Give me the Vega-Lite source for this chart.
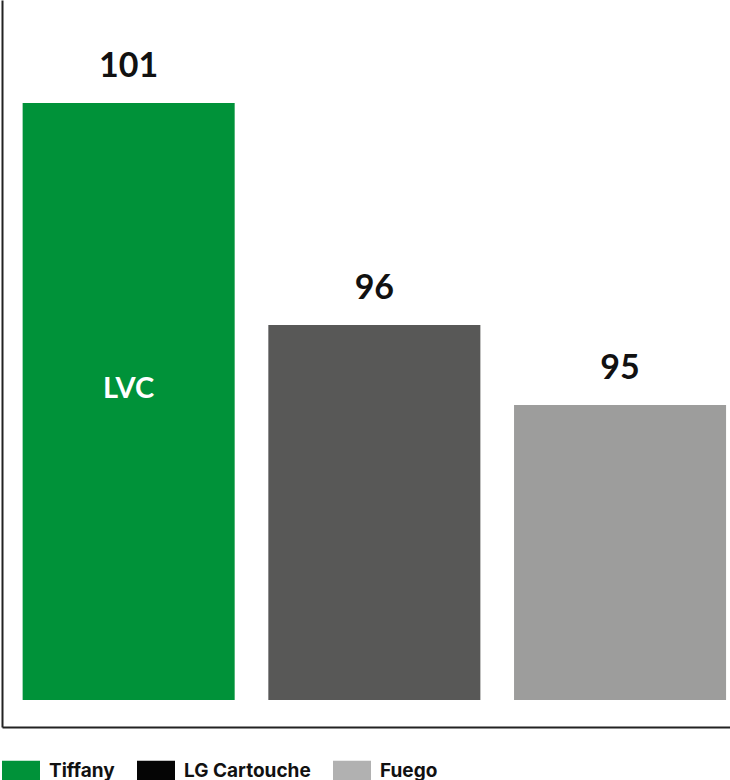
{
  "$schema": "https://vega.github.io/schema/vega-lite/v6.json",
  "width": 728,
  "height": 727,
  "padding": {"left": 2, "top": 0, "right": 0, "bottom": 0},
  "background": "white",
  "config": {"view": {"stroke": null}, "font": "Lato"},
  "data": {
    "values": [
      {"brand": "Tiffany", "score": 101, "barHeight": 597, "inner": "LVC"},
      {"brand": "LG Cartouche", "score": 96, "barHeight": 375, "inner": ""},
      {"brand": "Fuego", "score": 95, "barHeight": 295, "inner": ""}
    ]
  },
  "encoding": {
    "x": {
      "field": "brand",
      "type": "nominal",
      "sort": null,
      "scale": {"paddingInner": 0.137, "paddingOuter": 0.05, "align": 0.84},
      "axis": {"title": null, "labels": false, "ticks": false, "domainColor": "#222222", "domainWidth": 2}
    },
    "y": {
      "field": "barHeight",
      "type": "quantitative",
      "scale": {"domain": [-27, 700], "nice": false, "zero": false},
      "axis": {"title": null, "labels": false, "ticks": false, "grid": false, "domainColor": "#222222", "domainWidth": 2}
    }
  },
  "layer": [
    {
      "mark": {"type": "bar"},
      "encoding": {
        "y2": {"datum": 0},
        "fill": {
          "field": "brand",
          "type": "nominal",
          "sort": "ascending",
          "scale": {"range": ["#9d9d9c", "#585857", "#009239"]},
          "legend": null
        }
      }
    },
    {
      "mark": {"type": "square", "opacity": 0},
      "encoding": {
        "color": {
          "field": "brand",
          "type": "nominal",
          "scale": {"domain": ["Tiffany", "LG Cartouche", "Fuego"], "range": ["#009239", "#050505", "#b1b1b1"]},
          "legend": {
            "orient": "bottom",
            "direction": "horizontal",
            "title": null,
            "symbolType": "M-1,-0.55H1V0.55H-1Z",
            "symbolSize": 1444,
            "symbolOpacity": 1,
            "symbolStrokeWidth": 0,
            "labelFont": "Inter",
            "labelFontSize": 19,
            "labelFontWeight": "bold",
            "labelColor": "#111111",
            "labelOffset": 9,
            "columnPadding": 22,
            "offset": 25,
            "padding": 0
          }
        }
      }
    },
    {
      "mark": {"type": "text", "dy": -26, "baseline": "alphabetic", "fontSize": 34, "fontWeight": "bold", "color": "#111111"},
      "encoding": {"text": {"field": "score", "type": "quantitative"}}
    },
    {
      "mark": {"type": "text", "dy": 286, "baseline": "middle", "fontSize": 29, "fontWeight": "bold", "color": "#ffffff"},
      "encoding": {"text": {"field": "inner", "type": "nominal"}}
    }
  ]
}
